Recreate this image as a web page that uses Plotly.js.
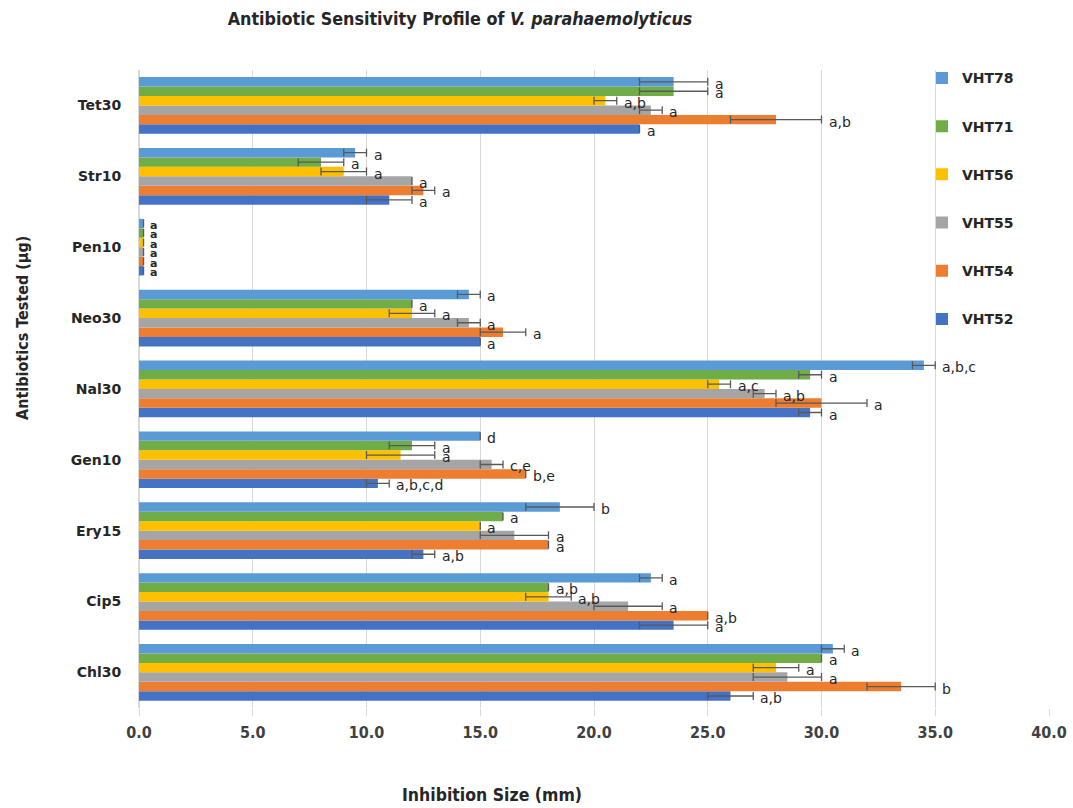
<!DOCTYPE html>
<html>
<head>
<meta charset="utf-8">
<script src="https://cdn.plot.ly/plotly-3.0.1.min.js"></script>
<style>html,body{margin:0;padding:0;background:#fff;}#chart{width:1073px;height:808px;}</style>
</head>
<body>
<div id="chart"></div>
<script>
// Categories from bottom to top of the chart
const categories = ['Chl30','Cip5','Ery15','Gen10','Nal30','Neo30','Pen10','Str10','Tet30'];

const strains = ['VHT52','VHT54','VHT55','VHT56','VHT71','VHT78'];
const colors  = ['#4472C4','#ED7D31','#A5A5A5','#FFC000','#70AD47','#5B9BD5'];

const vht52 = [26, 23.5, 12.5, 10.5, 29.5, 15, 0.2, 11, 22];
const vht54 = [33.5, 25, 18, 17, 30, 16, 0.2, 12.5, 28];
const vht55 = [28.5, 21.5, 16.5, 15.5, 27.5, 14.5, 0.2, 12, 22.5];
const vht56 = [28, 18, 15, 11.5, 25.5, 12, 0.2, 9, 20.5];
const vht71 = [30, 18, 16, 12, 29.5, 12, 0.2, 8, 23.5];
const vht78 = [30.5, 22.5, 18.5, 15, 34.5, 14.5, 0.2, 9.5, 23.5];

const err52 = [1, 1.5, 0.5, 0.5, 0.5, 0, 0, 1, 0];
const err54 = [1.5, 0, 0, 0, 2, 1, 0, 0.5, 2];
const err55 = [1.5, 1.5, 1.5, 0.5, 0.5, 0.5, 0, 0, 0.5];
const err56 = [1, 1, 0, 1.5, 0.5, 1, 0, 1, 0.5];
const err71 = [0, 0, 0, 1, 0.5, 0, 0, 1, 1.5];
const err78 = [0.5, 0.5, 1.5, 0, 0.5, 0.5, 0, 0.5, 1.5];

const lab52 = ['a,b','a','a,b','a,b,c,d','a','a','a','a','a'];
const lab54 = ['b','a,b','a','b,e','a','a','a','a','a,b'];
const lab55 = ['a','a','a','c,e','a,b','a','a','a','a'];
const lab56 = ['a','a,b','a','a','a,c','a','a','a','a,b'];
const lab71 = ['a','a,b','a','a','a','a','a','a','a'];
const lab78 = ['a','a','b','d','a,b,c','a','a','a','a'];

const xTickVals = [0,5,10,15,20,25,30,35,40];

const values = [vht52, vht54, vht55, vht56, vht71, vht78];
const errors = [err52, err54, err55, err56, err71, err78];
const letters = [lab52, lab54, lab55, lab56, lab71, lab78];

const NARROW = '"Liberation Sans Narrow", "DejaVu Sans Condensed", "Roboto Condensed", "Liberation Sans", sans-serif';
const WIDE = '"DejaVu Sans", Verdana, sans-serif';

const W = 1073, H = 808;
const margin = {l: 139, r: 24, t: 70, b: 100, pad: 0};
const bargap = 0.2;
const plotH = H - margin.t - margin.b;
const catH = plotH / categories.length;
const barH = catH * (1 - bargap) / strains.length;

const traces = strains.map((s, i) => ({
  type: 'bar',
  orientation: 'h',
  name: s,
  legendgroup: s,
  legendrank: strains.length - i,
  y: categories,
  x: values[i],
  marker: {color: colors[i], line: {width: 0}},
  error_x: {type: 'data', array: errors[i], visible: true, color: '#595959', thickness: 1.3, width: 4},
  hoverinfo: 'x+y+name'
}));

const annotations = [];
strains.forEach((s, i) => {
  categories.forEach((c, j) => {
    const isPen = c === 'Pen10';
    annotations.push({
      x: values[i][j] + errors[i][j],
      y: c,
      xref: 'x', yref: 'y',
      text: letters[i][j],
      showarrow: false,
      xanchor: 'left',
      yanchor: 'middle',
      xshift: isPen ? 4 : 5,
      yshift: (i - (strains.length - 1) / 2) * barH - 2,
      font: {family: WIDE, size: isPen ? 11 : 14, color: '#262626', weight: isPen ? 'bold' : 'normal'}
    });
  });
});

annotations.push({
  xref: 'paper', yref: 'paper',
  x: (492 - margin.l) / (W - margin.l - margin.r),
  y: -(795 - (H - margin.b)) / plotH,
  text: 'Inhibition Size (mm)', showarrow: false,
  xanchor: 'center', yanchor: 'middle',
  font: {family: NARROW, size: 17.5, color: '#262626', weight: 'bold'}
});
annotations.push({
  xref: 'paper', yref: 'paper',
  x: -(margin.l - 22) / (W - margin.l - margin.r),
  y: 1 - (328 - margin.t) / plotH,
  text: 'Antibiotics Tested (µg)', showarrow: false, textangle: -90,
  xanchor: 'center', yanchor: 'middle',
  font: {family: NARROW, size: 16, color: '#262626', weight: 'bold'}
});

const layout = {
  width: W, height: H,
  margin: margin,
  paper_bgcolor: '#ffffff',
  plot_bgcolor: '#ffffff',
  barmode: 'group',
  bargap: bargap,
  bargroupgap: 0,
  showlegend: true,
  title: {
    text: 'Antibiotic Sensitivity Profile of <i>V. parahaemolyticus</i>',
    x: 460 / W, xref: 'container', xanchor: 'center',
    y: 1 - 19 / H, yref: 'container', yanchor: 'middle',
    font: {family: NARROW, size: 17.8, color: '#262626', weight: 'bold'}
  },
  xaxis: {
    range: [0, 40],
    tickvals: xTickVals,
    tickformat: '.1f',
    showgrid: true, gridcolor: '#d9d9d9', gridwidth: 1,
    zeroline: true, zerolinecolor: '#d9d9d9', zerolinewidth: 1,
    showline: false,
    ticks: 'outside', ticklen: 7, tickcolor: '#d9d9d9', tickwidth: 1,
    ticklabelstandoff: 3,
    tickfont: {family: NARROW, size: 16, color: '#404040', weight: 'bold'},
    fixedrange: true
  },
  yaxis: {
    type: 'category',
    categoryorder: 'array',
    categoryarray: categories,
    showgrid: false,
    showline: true, linecolor: '#d9d9d9', linewidth: 1,
    ticks: '',
    ticklabelstandoff: 14,
    tickfont: {family: WIDE, size: 14, color: '#262626', weight: 'bold'},
    fixedrange: true
  },
  legend: {
    x: (922 - margin.l) / (W - margin.l - margin.r),
    xanchor: 'left',
    y: 1.012, yanchor: 'top',
    traceorder: 'grouped',
    tracegroupgap: 27,
    bgcolor: 'rgba(255,255,255,0)',
    borderwidth: 0,
    font: {family: WIDE, size: 14, color: '#262626', weight: 'bold'}
  },
  annotations: annotations
};

Plotly.newPlot('chart', traces, layout, {displayModeBar: false, responsive: false});
</script>
</body>
</html>
